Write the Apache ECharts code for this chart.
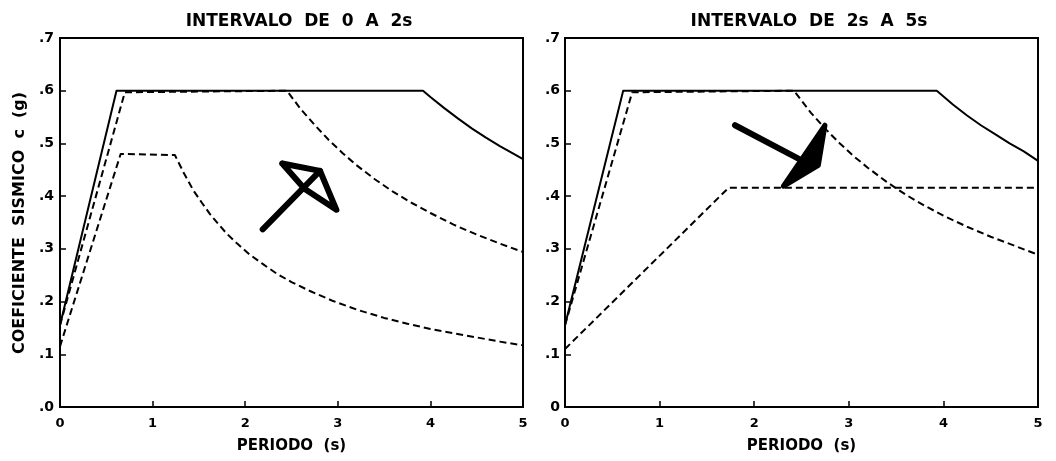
<!DOCTYPE html>
<html>
<head>
<meta charset="utf-8">
<script src="https://cdn.jsdelivr.net/npm/echarts@6/dist/echarts.min.js"></script>
<style>
html,body{margin:0;padding:0;background:#fff;}
#chart{width:1056px;height:461px;}
</style>
</head>
<body>
<div id="chart"></div>
<script>
// ---- tick labels ----
const periodTicks = ['0', '1', '2', '3', '4', '5'];
const coefTicksLeft = ['.0', '.1', '.2', '.3', '.4', '.5', '.6', '.7'];
const coefTicksRight = ['0', '.1', '.2', '.3', '.4', '.5', '.6', '.7'];
const titles = ['INTERVALO  DE  0  A  2s', 'INTERVALO  DE  2s  A  5s'];
const yName = 'COEFICIENTE  SISMICO  c  (g)';
const xName = 'PERIODO  (s)';

// ---- left panel (0 to 2 s) ----
const leftSolidT = [0, 0.61, 3.92, 4.0, 4.15, 4.3, 4.45, 4.6, 4.75, 4.9, 5.0];
const leftSolidC = [0.155, 0.6, 0.6, 0.588, 0.567, 0.547, 0.528, 0.511, 0.495, 0.48, 0.47];

const leftDash1T = [0, 0.70, 2.45, 2.6, 2.75, 2.9, 3.05, 3.2, 3.4, 3.6, 3.8, 4.0, 4.25, 4.5, 4.75, 5.0];
const leftDash1C = [0.155, 0.597, 0.6, 0.565, 0.535, 0.507, 0.482, 0.459, 0.432, 0.408, 0.387, 0.368, 0.346, 0.327, 0.31, 0.294];

const leftDash2T = [0, 0.655, 1.24, 1.34, 1.44, 1.53, 1.62, 1.71, 1.80, 1.92, 2.05, 2.2, 2.34, 2.5, 2.7, 2.95, 3.2, 3.5, 3.75, 4.0, 4.25, 4.5, 4.75, 5.0];
const leftDash2C = [0.115, 0.48, 0.478, 0.443, 0.411, 0.388, 0.366, 0.347, 0.329, 0.309, 0.289, 0.27, 0.253, 0.237, 0.22, 0.201, 0.185, 0.169, 0.158, 0.148, 0.14, 0.132, 0.124, 0.117];

// hand-drawn arrow (left panel), data coordinates
const leftArrowShaftT = [2.189, 2.808];
const leftArrowShaftC = [0.337, 0.448];
const leftArrowHeadT = [2.40, 2.808, 2.985, 2.64, 2.40];
const leftArrowHeadC = [0.462, 0.448, 0.374, 0.414, 0.462];

// ---- right panel (2 s to 5 s) ----
const rightSolidT = [0, 0.615, 3.93, 4.1, 4.25, 4.4, 4.55, 4.7, 4.85, 5.0];
const rightSolidC = [0.155, 0.6, 0.6, 0.574, 0.553, 0.534, 0.517, 0.5, 0.485, 0.467];

const rightDash1T = [0, 0.71, 2.42, 2.6, 2.75, 2.9, 3.05, 3.2, 3.4, 3.6, 3.8, 4.0, 4.25, 4.5, 4.75, 5.0];
const rightDash1C = [0.155, 0.597, 0.6, 0.558, 0.528, 0.501, 0.476, 0.454, 0.427, 0.403, 0.382, 0.363, 0.342, 0.323, 0.306, 0.289];

const rightDash2T = [0, 1.73, 5.0];
const rightDash2C = [0.11, 0.416, 0.416];

const rightArrowShaftT = [1.797, 2.502];
const rightArrowShaftC = [0.5345, 0.468];
const rightArrowHeadT = [2.308, 2.748, 2.678];
const rightArrowHeadC = [0.4188, 0.5345, 0.4586];

function pairs(t, c) { return t.map((v, i) => [v, c[i]]); }

const FONT = 'DejaVu Sans';

function lineSeries(idx, t, c, dashed, width) {
  return {
    type: 'line', xAxisIndex: idx, yAxisIndex: idx,
    data: pairs(t, c), symbol: 'none', smooth: false, silent: true,
    lineStyle: { color: '#000', width: width || 2, type: dashed ? [7, 4] : 'solid', cap: 'butt', join: 'round' },
    z: 3
  };
}
function arrowSeries(idx, t, c) {
  return {
    type: 'line', xAxisIndex: idx, yAxisIndex: idx,
    data: pairs(t, c), symbol: 'none', silent: true,
    lineStyle: { color: '#000', width: 6, cap: 'round', join: 'round' },
    z: 4
  };
}
function filledHead(idx, t, c) {
  return {
    type: 'custom', xAxisIndex: idx, yAxisIndex: idx, silent: true, z: 4,
    data: [[t[0], c[0]]],
    renderItem: function (params, api) {
      const pts = t.map((v, i) => api.coord([v, c[i]]));
      return { type: 'polygon', shape: { points: pts },
        style: { fill: '#000', stroke: '#000', lineWidth: 5, lineJoin: 'round' } };
    }
  };
}

function xAxis(idx) {
  return {
    type: 'value', gridIndex: idx, min: 0, max: 5, interval: 1,
    name: xName, nameLocation: 'middle', nameGap: 32,
    nameTextStyle: { fontFamily: FONT, fontWeight: 'bold', fontSize: 15, color: '#000' },
    axisLine: { show: true, lineStyle: { color: '#000', width: 2 } },
    axisTick: { show: true, inside: true, length: 6, lineStyle: { color: '#000', width: 1.5 } },
    axisLabel: { fontFamily: FONT, fontWeight: 'bold', fontSize: 13, color: '#000', margin: 10,
      formatter: v => periodTicks[Math.round(v)] },
    splitLine: { show: false }
  };
}
function yAxis(idx, labels) {
  return {
    type: 'value', gridIndex: idx, min: 0, max: 0.7, interval: 0.1,
    axisLine: { show: true, lineStyle: { color: '#000', width: 2 } },
    axisTick: { show: true, inside: true, length: 6, lineStyle: { color: '#000', width: 1.5 } },
    axisLabel: { fontFamily: FONT, fontWeight: 'bold', fontSize: 14, color: '#000', margin: idx === 0 ? 6 : 5,
      formatter: v => labels[Math.round(v * 10)] },
    splitLine: { show: false }
  };
}

const chart = echarts.init(document.getElementById('chart'), null, { renderer: 'canvas' });
chart.setOption({
  backgroundColor: '#fff',
  animation: false,
  title: [
    { text: titles[0], left: 294, top: 8, textAlign: 'center',
      textStyle: { fontFamily: FONT, fontWeight: 'bold', fontSize: 17, color: '#000' } },
    { text: titles[1], left: 804, top: 8, textAlign: 'center',
      textStyle: { fontFamily: FONT, fontWeight: 'bold', fontSize: 17, color: '#000' } }
  ],
  grid: [
    { left: 60, top: 38, width: 463, height: 369, show: true, borderColor: '#000', borderWidth: 2, backgroundColor: 'transparent' },
    { left: 565, top: 38, width: 473, height: 369, show: true, borderColor: '#000', borderWidth: 2, backgroundColor: 'transparent' }
  ],
  xAxis: [xAxis(0), xAxis(1)],
  yAxis: [yAxis(0, coefTicksLeft), yAxis(1, coefTicksRight)],
  graphic: [
    { type: 'text', x: 20, y: 223, rotation: Math.PI / 2,
      style: { text: yName, fontFamily: FONT, fontWeight: 'bold', fontSize: 16,
        fill: '#000', textAlign: 'center', textVerticalAlign: 'middle' } }
  ],
  series: [
    lineSeries(0, leftSolidT, leftSolidC, false),
    lineSeries(0, leftDash1T, leftDash1C, true),
    lineSeries(0, leftDash2T, leftDash2C, true),
    arrowSeries(0, leftArrowShaftT, leftArrowShaftC),
    arrowSeries(0, leftArrowHeadT, leftArrowHeadC),
    lineSeries(1, rightSolidT, rightSolidC, false),
    lineSeries(1, rightDash1T, rightDash1C, true),
    lineSeries(1, rightDash2T, rightDash2C, true),
    arrowSeries(1, rightArrowShaftT, rightArrowShaftC),
    filledHead(1, rightArrowHeadT, rightArrowHeadC)
  ]
});
</script>
</body>
</html>
